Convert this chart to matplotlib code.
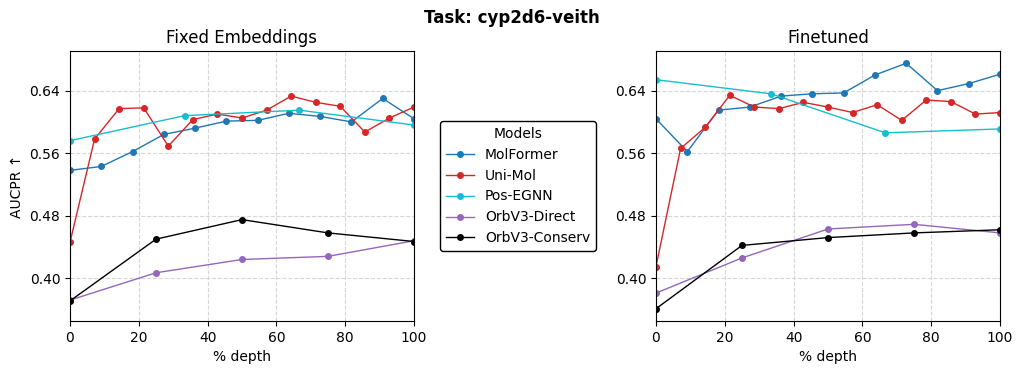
import numpy as np
import matplotlib
matplotlib.use('Agg')
import matplotlib.pyplot as plt

# depth positions (% of layers)
depth_molformer = np.linspace(0, 100, 12)
depth_unimol = np.linspace(0, 100, 15)
depth_posegnn = np.linspace(0, 100, 4)
depth_orb = np.linspace(0, 100, 5)

# Fixed Embeddings
fixed_molformer = [0.538, 0.543, 0.562, 0.584, 0.592, 0.601, 0.602, 0.611, 0.607, 0.600, 0.630, 0.604]
fixed_unimol = [0.446, 0.578, 0.617, 0.618, 0.569, 0.603, 0.610, 0.605, 0.615, 0.633, 0.625, 0.620, 0.587, 0.605, 0.619]
fixed_posegnn = [0.576, 0.608, 0.615, 0.596]
fixed_orb_direct = [0.372, 0.407, 0.424, 0.428, 0.448]
fixed_orb_conserv = [0.371, 0.450, 0.475, 0.458, 0.447]

# Finetuned
ft_molformer = [0.604, 0.562, 0.615, 0.619, 0.633, 0.636, 0.637, 0.660, 0.675, 0.640, 0.649, 0.661]
ft_unimol = [0.415, 0.566, 0.593, 0.634, 0.619, 0.617, 0.625, 0.619, 0.612, 0.622, 0.602, 0.628, 0.626, 0.610, 0.612]
ft_posegnn = [0.654, 0.636, 0.586, 0.591]
ft_orb_direct = [0.381, 0.426, 0.463, 0.469, 0.458]
ft_orb_conserv = [0.361, 0.442, 0.452, 0.458, 0.462]

model_names = ['MolFormer', 'Uni-Mol', 'Pos-EGNN', 'OrbV3-Direct', 'OrbV3-Conserv']
colors = ['#1f77b4', '#d62728', '#17becf', '#9467bd', 'black']
depths = [depth_molformer, depth_unimol, depth_posegnn, depth_orb, depth_orb]
panels = [
    ('Fixed Embeddings', [fixed_molformer, fixed_unimol, fixed_posegnn, fixed_orb_direct, fixed_orb_conserv]),
    ('Finetuned', [ft_molformer, ft_unimol, ft_posegnn, ft_orb_direct, ft_orb_conserv]),
]

fig = plt.figure(figsize=(10.23, 3.74), dpi=100)
ax1 = fig.add_axes([70/1023, 1-321/374, 344/1023, 270/374])
ax2 = fig.add_axes([656/1023, 1-321/374, 344/1023, 270/374], sharey=ax1)

handles = []
for ax, (title, series) in zip([ax1, ax2], panels):
    for name, col, x, y in zip(model_names, colors, depths, series):
        h, = ax.plot(x, y, '-o', color=col, lw=1, ms=4, label=name)
        if ax is ax1:
            handles.append(h)
    ax.set_title(title, fontsize=12)
    ax.set_xlabel('% depth')
    ax.set_xlim(0, 100)
    ax.set_xticks([0, 20, 40, 60, 80, 100])
    ax.set_yticks([0.40, 0.48, 0.56, 0.64])
    ax.grid(True, linestyle='--', color='lightgray', alpha=0.9)
    ax.tick_params(labelleft=True)

ax1.set_ylabel('AUCPR ↑')

fig.suptitle('Task: cyp2d6-veith', fontweight='bold', fontsize=12, y=0.975)
leg = fig.legend(handles=handles, title='Models', loc='center',
                 bbox_to_anchor=(518/1023, 1-186/374), fontsize=10)
leg.get_frame().set_edgecolor('black')
leg.get_frame().set_alpha(1)

plt.savefig('out.png', dpi=100)
